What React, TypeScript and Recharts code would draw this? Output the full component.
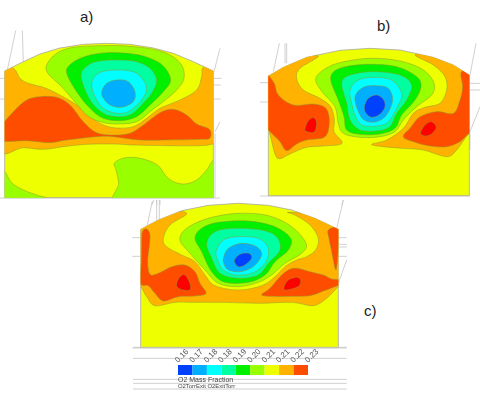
import React from "react";
import { ScatterChart, Scatter, XAxis, YAxis, BarChart, Bar } from "recharts";

type P = [number, number];
const DEEP = "#0040FF", BLUE = "#00B0FF", CYAN = "#00FFFF", SPRING = "#00FFA0", GREEN = "#00F000",
  LIME = "#99FF00", YELLOW = "#EEFF00", ORANGE = "#FFB300", REDORANGE = "#FF4D00", RED = "#FF0000";

const legendColors = [DEEP, BLUE, CYAN, SPRING, GREEN, LIME, YELLOW, ORANGE, REDORANGE];
const legendLabels = ["0.16", "0.17", "0.18", "0.18", "0.19", "0.20", "0.21", "0.21", "0.22", "0.23"];
const legendTicks = [0, 1, 2, 3, 4, 5, 6, 7, 8, 9];

// Panel a
const aOutline: P[] = [[14,213],[60,190],[120,162],[180,144],[250,133],[320,130],[390,133],[460,144],[520,160],[580,185],[640,213],[640,593],[14,593]];
const aLimeLeft: P[] = [[-10,505],[14,515],[35,548],[70,570],[110,585],[145,598],[120,625],[-10,625]];
const aLimeRight: P[] = [[343,490],[365,476],[400,472],[440,480],[475,497],[495,525],[520,545],[555,552],[590,540],[620,510],[640,480],[670,460],[670,625],[358,625],[356,550],[348,510]];
const aOrange: P[] = [[-10,195],[40,205],[60,235],[85,250],[130,262],[170,280],[230,315],[270,350],[310,375],[350,384],[400,380],[440,355],[480,325],[540,300],[590,270],[605,230],[612,200],[670,195],[670,425],[640,432],[600,437],[500,437],[400,435],[340,432],[260,433],[190,440],[130,448],[70,443],[-10,445]];
const aRedOrange: P[] = [[0,385],[40,335],[80,300],[120,290],[170,292],[210,315],[250,365],[290,398],[340,405],[390,400],[430,375],[480,338],[520,328],[560,345],[590,372],[628,388],[630,414],[600,418],[500,420],[420,420],[340,410],[290,410],[200,420],[150,428],[80,422],[0,422]];
const aLime: P[] = [[140,195],[145,222],[180,255],[220,300],[260,345],[300,365],[350,372],[410,365],[450,335],[490,305],[530,270],[552,235],[545,195],[510,165],[460,148],[380,138],[300,137],[220,142],[170,160]];
const aGreen: P[] = [[200,218],[215,190],[260,168],[320,158],[400,162],[450,175],[490,198],[512,240],[490,275],[450,315],[410,350],[360,362],[310,355],[270,325],[230,275]];
const aSpring: P[] = [[243,228],[265,195],[300,183],[350,180],[410,185],[450,205],[470,240],[455,280],[420,320],[390,345],[350,350],[310,340],[270,300]];
const aCyan: P[] = [[275,250],[295,220],[340,210],[400,215],[430,240],[440,270],[420,305],[385,335],[350,340],[310,325],[285,290]];
const aBlue: P[] = [[305,275],[320,250],[350,240],[385,245],[405,275],[400,305],[365,322],[330,315],[310,295]];
const aLines: P[][] = [
  [[22,210],[47,92]],[[67,92],[70,190]],[[0,235],[14,235]],[[0,297],[14,297]],[[642,215],[660,145]],
  [[640,235],[665,235]],[[640,255],[662,255]],[[640,297],[662,297]],[[645,395],[660,365]],[[645,400],[645,593]],
  [[0,594],[660,594]],[[455,615],[462,600]],[[470,600],[470,615]],[[480,600],[480,615]],
];

// Panel b
const bOutline: P[] = [[85,228],[130,202],[200,172],[300,151],[390,145],[480,150],[580,172],[640,195],[688,225],[688,587],[85,587]];
const bOrangeLeft: P[] = [[60,220],[100,205],[160,175],[235,168],[180,205],[170,235],[190,270],[240,295],[272,320],[283,360],[282,395],[306,430],[250,438],[200,442],[150,462],[120,476],[105,462],[85,390],[60,380]];
const bOrangeRight: P[] = [[525,165],[580,195],[615,230],[620,270],[600,310],[555,322],[520,340],[490,385],[440,420],[395,433],[430,440],[490,445],[550,450],[620,470],[650,450],[688,400],[715,400],[715,200],[640,180],[580,160]];
const bRedOrangeLeft: P[] = [[60,215],[100,245],[115,285],[160,315],[220,312],[258,325],[268,365],[255,410],[200,420],[170,432],[140,452],[120,425],[100,405],[85,390],[60,375]];
const bRedOrangeRight: P[] = [[665,215],[668,260],[660,300],[640,340],[590,335],[540,350],[510,385],[490,410],[520,425],[570,438],[620,440],[660,425],[688,400],[715,390],[715,210]];
const bRedLeft: P[] = [[195,385],[205,362],[222,353],[230,370],[222,397],[198,394]];
const bRedRight: P[] = [[541,399],[555,375],[575,365],[589,382],[575,402],[555,408]];
const bLime: P[] = [[227,240],[250,210],[300,188],[390,175],[480,183],[550,210],[582,250],[575,285],[530,320],[490,360],[465,395],[420,410],[360,412],[310,400],[295,370],[285,320],[250,280]];
const bGreen: P[] = [[272,235],[300,205],[380,193],[470,200],[530,230],[543,260],[525,300],[485,345],[465,385],[420,402],[360,403],[320,390],[312,350],[295,300]];
const bSpring: P[] = [[305,250],[330,225],[400,215],[480,225],[515,255],[500,300],[470,340],[450,380],[410,393],[360,390],[330,360],[320,310]];
const bCyan: P[] = [[330,270],[355,240],[400,232],[455,240],[485,280],[475,315],[445,365],[410,378],[365,375],[345,345],[335,310]];
const bBlue: P[] = [[345,290],[370,262],[410,257],[445,265],[458,300],[440,345],[410,365],[375,362],[355,335]];
const bDeep: P[] = [[373,320],[385,295],[410,285],[430,298],[435,320],[420,343],[395,352],[378,340]];
const bLines: P[][] = [
  [[100,215],[118,130]],[[135,130],[135,190]],[[140,130],[140,190]],[[60,248],[85,248]],[[60,306],[85,306]],
  [[690,225],[708,130]],[[688,250],[720,250]],[[688,270],[720,270]],[[688,400],[720,320]],[[690,400],[690,450]],
  [[60,588],[690,588]],[[305,615],[310,600]],
];

// Panel c
const cOutline: P[] = [[47,103],[100,75],[170,47],[250,31],[340,25],[430,31],[500,45],[570,70],[640,103],[640,458],[47,458]];
const cOrange: P[] = [[30,95],[80,78],[150,50],[185,57],[135,90],[115,130],[125,155],[170,180],[210,200],[240,240],[270,272],[340,285],[410,272],[450,245],[480,215],[515,195],[545,185],[572,165],[580,130],[555,90],[510,60],[490,52],[570,60],[660,95],[660,265],[640,275],[605,310],[565,332],[500,322],[400,325],[300,322],[200,322],[150,322],[90,332],[65,305],[47,275],[30,270]];
const cRedOrangeLeft: P[] = [[52,110],[65,102],[75,120],[72,160],[68,200],[75,238],[100,235],[140,215],[180,210],[210,230],[225,265],[243,295],[210,303],[160,305],[115,318],[90,295],[70,272],[46,265],[49,200],[50,140]];
const cRedOrangeSliver: P[] = [[610,105],[640,100],[640,160],[636,210],[631,222],[620,170],[612,130]];
const cRedOrangeRight: P[] = [[410,300],[435,280],[465,245],[490,225],[515,220],[555,230],[595,240],[620,252],[645,255],[645,268],[595,288],[555,302],[495,304],[445,304]];
const cRedLeft: P[] = [[155,265],[165,245],[180,240],[195,265],[195,285],[175,285],[158,278]];
const cRedRight: P[] = [[477,275],[490,255],[515,247],[527,255],[523,272],[500,282],[480,285]];
const cLime: P[] = [[165,135],[185,100],[250,70],[340,55],[430,62],[500,95],[543,145],[530,175],[480,205],[440,240],[400,262],[340,275],[280,265],[240,225],[195,175]];
const cGreen: P[] = [[210,130],[230,100],[280,82],[370,78],[450,95],[497,130],[490,165],[450,200],[420,240],[370,262],[300,262],[260,230],[230,170]];
const cSpring: P[] = [[245,145],[270,110],[330,100],[410,105],[455,125],[465,165],[430,205],[400,240],[340,250],[285,235],[260,190]];
const cCyan: P[] = [[273,170],[295,135],[340,125],[400,130],[430,160],[420,205],[380,235],[330,240],[295,225],[280,200]];
const cBlue: P[] = [[295,190],[310,160],[350,145],[395,155],[410,180],[385,215],[345,230],[310,225],[298,210]];
const cDeep: P[] = [[328,197],[345,178],[372,175],[380,190],[360,210],[340,215]];
const cLines: P[][] = [
  [[65,100],[82,18]],[[95,15],[95,80]],[[103,15],[103,75]],[[22,128],[47,128]],[[22,184],[47,184]],
  [[635,100],[655,15]],[[640,128],[665,128]],[[640,148],[665,148]],[[640,156],[665,156]],[[640,184],[665,184]],
  [[640,265],[665,195]],[[22,459],[665,459]],
];

const legendRules: P[][] = [
  [[24,22],[665,22]],[[24,55],[665,55]],[[24,118],[665,118]],[[24,130],[665,130]],[[24,147],[665,147]],
];

type Region = { pts: P[]; fill: string };

const toData = (pts: P[]) => pts.map(([x, y]) => ({ x, y }));
const noDot = () => <g />;

// closed Catmull-Rom spline through the scaled points
function smoothPath(points: { x: number; y: number }[]) {
  const n = points.length;
  const at = (i: number) => points[(i + n) % n];
  let d = `M${points[0].x},${points[0].y}`;
  for (let i = 0; i < n; i++) {
    const p0 = at(i - 1), p1 = at(i), p2 = at(i + 1), p3 = at(i + 2);
    const c1x = p1.x + (p2.x - p0.x) / 6, c1y = p1.y + (p2.y - p0.y) / 6;
    const c2x = p2.x - (p3.x - p1.x) / 6, c2y = p2.y - (p3.y - p1.y) / 6;
    d += `C${c1x},${c1y} ${c2x},${c2y} ${p2.x},${p2.y}`;
  }
  return d + "Z";
}
function straightPath(points: { x: number; y: number }[], closed: boolean) {
  return "M" + points.map((p) => `${p.x},${p.y}`).join("L") + (closed ? "Z" : "");
}

function Panel({ id, left, top, width, height, outline, regions, lines }: {
  id: string; left: number; top: number; width: number; height: number;
  outline: P[]; regions: Region[]; lines: P[][];
}) {
  return (
    <div style={{ position: "absolute", left, top, width, height, filter: "blur(0.45px)" }}>
      <ScatterChart width={width} height={height} margin={{ top: 0, right: 0, bottom: 0, left: 0 }}>
        <XAxis type="number" dataKey="x" domain={[0, width * 3]} hide allowDataOverflow />
        <YAxis type="number" dataKey="y" domain={[0, height * 3]} reversed hide allowDataOverflow width={0} />
        {lines.map((l, i) => (
          <Scatter key={"l" + i} data={toData(l)} shape={noDot} isAnimationActive={false}
            line={(p: any) => <path d={straightPath(p.points, false)} fill="none" stroke="#c4c4c4" strokeWidth={0.8} />} />
        ))}
        {outline.length > 0 && (
          <Scatter data={toData(outline)} shape={noDot} isAnimationActive={false}
            line={(p: any) => (
              <g>
                <clipPath id={id}><path d={straightPath(p.points, true)} /></clipPath>
                <path d={straightPath(p.points, true)} fill={YELLOW} stroke="#a8a8a0" strokeWidth={0.8} />
              </g>
            )} />
        )}
        {regions.map((r, i) => (
          <Scatter key={"r" + i} data={toData(r.pts)} shape={noDot} isAnimationActive={false}
            line={(p: any) => (
              <path d={smoothPath(p.points)} clipPath={`url(#${id})`} fill={r.fill} stroke="#8f9a30" strokeWidth={0.5} />
            )} />
        ))}
      </ScatterChart>
    </div>
  );
}

const aRegions: Region[] = [
  { pts: aLimeLeft, fill: LIME }, { pts: aLimeRight, fill: LIME }, { pts: aOrange, fill: ORANGE },
  { pts: aRedOrange, fill: REDORANGE }, { pts: aLime, fill: LIME }, { pts: aGreen, fill: GREEN },
  { pts: aSpring, fill: SPRING }, { pts: aCyan, fill: CYAN }, { pts: aBlue, fill: BLUE },
];
const bRegions: Region[] = [
  { pts: bOrangeLeft, fill: ORANGE }, { pts: bOrangeRight, fill: ORANGE }, { pts: bRedOrangeLeft, fill: REDORANGE },
  { pts: bRedOrangeRight, fill: REDORANGE }, { pts: bRedLeft, fill: RED }, { pts: bRedRight, fill: RED },
  { pts: bLime, fill: LIME }, { pts: bGreen, fill: GREEN }, { pts: bSpring, fill: SPRING },
  { pts: bCyan, fill: CYAN }, { pts: bBlue, fill: BLUE }, { pts: bDeep, fill: DEEP },
];
const cRegions: Region[] = [
  { pts: cOrange, fill: ORANGE }, { pts: cRedOrangeLeft, fill: REDORANGE }, { pts: cRedOrangeSliver, fill: REDORANGE },
  { pts: cRedOrangeRight, fill: REDORANGE }, { pts: cRedLeft, fill: RED }, { pts: cRedRight, fill: RED },
  { pts: cLime, fill: LIME }, { pts: cGreen, fill: GREEN }, { pts: cSpring, fill: SPRING },
  { pts: cCyan, fill: CYAN }, { pts: cBlue, fill: BLUE }, { pts: cDeep, fill: DEEP },
];

const legendRow: Record<string, any> = { name: "O2" };
legendColors.forEach((_, i) => { legendRow["s" + i] = 1; });

const labelStyle: React.CSSProperties = {
  position: "absolute", fontFamily: "Liberation Sans, Arial, sans-serif", fontSize: 15, color: "#222", lineHeight: "18px",
};
const legendTextStyle: React.CSSProperties = {
  position: "absolute", fontFamily: "Liberation Sans, Arial, sans-serif", color: "#444", whiteSpace: "nowrap", filter: "blur(0.35px)",
};

export default function App() {
  return (
    <div style={{ position: "absolute", left: 0, top: 0, width: 480, height: 393, background: "#fff", overflow: "hidden" }}>
      <Panel id="clipA" left={0} top={0} width={240} height={205} outline={aOutline} regions={aRegions} lines={aLines} />
      <Panel id="clipB" left={240} top={0} width={240} height={205} outline={bOutline} regions={bRegions} lines={bLines} />
      <Panel id="clipC" left={125} top={195} width={240} height={155} outline={cOutline} regions={cRegions} lines={cLines} />
      <Panel id="clipL" left={125} top={340} width={240} height={53} outline={[]} regions={[]} lines={legendRules} />
      <div style={{ ...labelStyle, left: 80, top: 8 }}>a)</div>
      <div style={{ ...labelStyle, left: 377, top: 17 }}>b)</div>
      <div style={{ ...labelStyle, left: 364, top: 302 }}>c)</div>
      <div style={{ position: "absolute", left: 168, top: 340, filter: "blur(0.35px)" }}>
        <BarChart width={172} height={35} layout="vertical" data={[legendRow]} barCategoryGap={0}
          margin={{ top: 1, right: 32, bottom: 0, left: 10 }}>
          <XAxis type="number" orientation="top" domain={[0, 9]} ticks={legendTicks} height={24} interval={0}
            axisLine={false} tickLine={false} tickSize={0} tickMargin={2} angle={-45} textAnchor="start"
            tick={{ fontSize: 8, fill: "#555", fontFamily: "Liberation Sans, Arial, sans-serif" }}
            tickFormatter={(v: number) => legendLabels[v]} />
          <YAxis type="category" dataKey="name" hide width={0} />
          {legendColors.map((c, i) => (
            <Bar key={i} dataKey={"s" + i} stackId="scale" fill={c} isAnimationActive={false} />
          ))}
        </BarChart>
      </div>
      <div style={{ ...legendTextStyle, left: 178, top: 375, fontSize: 7, lineHeight: "9px" }}>O2 Mass Fraction</div>
      <div style={{ ...legendTextStyle, left: 178, top: 381.5, fontSize: 5.9, lineHeight: "9px" }}>O2TorrExit O2ExitTorr</div>
    </div>
  );
}
